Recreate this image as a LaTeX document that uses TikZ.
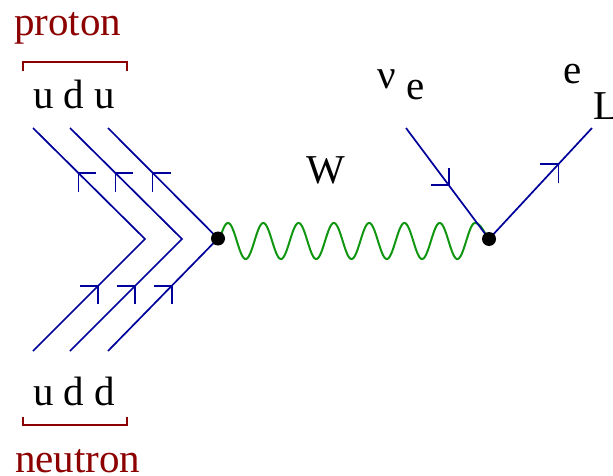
\documentclass[tikz,border=0pt]{standalone}
\usepackage{fontspec}
\setmainfont{Liberation Serif}
\usetikzlibrary{calc}
\definecolor{qblue}{RGB}{0,0,155}
\definecolor{wgreen}{RGB}{16,150,16}
\definecolor{hred}{RGB}{140,0,0}
\begin{document}
\begin{tikzpicture}[x=1pt,y=-1pt,
  fermion/.style={draw=qblue, line width=1.7pt},
  tick/.style={draw=qblue, line width=1.7pt},
  lbl/.style={anchor=base west, inner sep=0pt, font=\fontsize{41}{48}\selectfont},
  hlbl/.style={lbl, text=hred},
  bracket/.style={draw=hred, line width=1.6pt},
  vtx/.style={circle, fill=black, minimum size=14pt, inner sep=0pt},
  boson/.style={draw=wgreen, line width=2pt}]
\useasboundingbox (0,0) rectangle (613,476);
% vertices and line ends
\coordinate (p1) at (218,238.5);
\coordinate (p2) at (489,239);
\coordinate (a1) at (33,128);
\coordinate (a2) at (70,128);
\coordinate (a3) at (108,128);
\coordinate (k1) at (145,239);
\coordinate (k2) at (182,239);
\coordinate (b1) at (33,351);
\coordinate (b2) at (70,351);
\coordinate (b3) at (108,351);
\coordinate (n0) at (406,128);
\coordinate (e0) at (592,128);
% W boson, from vertex p1 to vertex p2
\begin{scope}[shift={(p1)}]
\draw[boson]
  plot[domain=0:90, samples=12] ({1+\x/10}, {2.5-18*sin(\x)})
  -- plot[domain=90:2610, samples=500] ({10+(\x-90)*0.09802}, {2.5-18*sin(\x)})
  -- plot[domain=2610:2700, samples=12] ({257+(\x-2610)*14/90}, {2.5-18*sin(\x)});
\end{scope}
% quark lines
\draw[fermion] (a1) -- (k1) -- (b1);
\draw[fermion] (a2) -- (k2) -- (b2);
\draw[fermion] (a3) -- (p1) -- (b3);
% lepton lines
\draw[fermion] (n0) -- (p2) -- (e0);
% arrow marks, upper quarks
\foreach \s/\k in {a1/k1, a2/k2, a3/p1}{
  \coordinate (t) at ($(\s)!0.405!(\k)$);
  \draw[tick] ($(t)+(18,0)$) -- (t) -- ($(t)+(0,19)$);
}
% arrow marks, lower quarks
\foreach \s/\k in {b1/k1, b2/k2, b3/p1}{
  \coordinate (t) at ($(\s)!0.58!(\k)$);
  \draw[tick] ($(t)+(-18,0)$) -- (t) -- ($(t)+(0,18)$);
}
% arrow marks, leptons
\coordinate (tn) at ($(n0)!0.514!(p2)$);
\draw[tick] ($(tn)+(-18,0)$) -- (tn) -- ($(tn)+(0,-17)$);
\coordinate (te) at ($(p2)!0.676!(e0)$);
\draw[tick] ($(te)+(-19,0)$) -- (te) -- ($(te)+(0,19)$);
% vertex dots
\node[vtx] (v1) at (p1) {};
\node[vtx] (v2) at (p2) {};
% brackets
\draw[bracket] (23,71) -- (23,62) -- (127,62) -- (127,71);
\draw[bracket] (23,417) -- (23,425) -- (127,425) -- (127,417);
% labels
\node[hlbl] (proton) at (14,36) {proton};
\node[lbl] (udu) at (33,109) {u d u};
\node[lbl] (udd) at (33,405) {u d d};
\node[hlbl] (neutron) at (15,472) {neutron};
\node[lbl] (W) at (306,183) {W};
\node[lbl] (nu) at (377,89) {ν};
\node[lbl] (nue) at (406,100) {e};
\node[lbl] (eL) at (563,84) {e};
\node[lbl] (L) at (593,120) {L};
\end{tikzpicture}
\end{document}
